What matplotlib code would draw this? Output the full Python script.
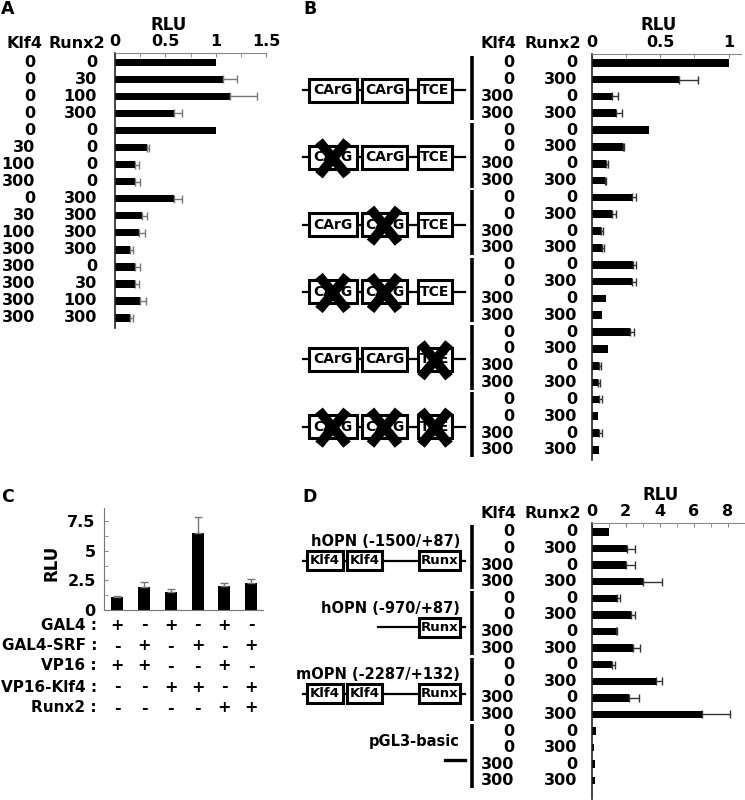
import matplotlib
matplotlib.use("Agg")
import matplotlib.pyplot as plt
import numpy as np
from matplotlib.patches import Rectangle
from matplotlib.ticker import MultipleLocator, FixedLocator, FixedFormatter
from matplotlib.transforms import blended_transform_factory

plt.rcParams["font.family"] = ["DejaVu Sans"]
plt.rcParams["font.weight"] = "bold"

# ---- data -------------------------------------------------------------
# Panel A
klf4_A = [0, 0, 0, 0, 0, 30, 100, 300, 0, 30, 100, 300, 300, 300, 300, 300]
runx2_A = [0, 30, 100, 300, 0, 0, 0, 0, 300, 300, 300, 300, 0, 30, 100, 300]
rlu_A = [1.0, 1.07, 1.14, 0.59, 1.0, 0.32, 0.195, 0.195,
         0.585, 0.27, 0.24, 0.15, 0.195, 0.2, 0.245, 0.15]
err_A = [0, 0.145, 0.27, 0.08, 0, 0.016, 0.046, 0.05,
         0.08, 0.05, 0.06, 0.033, 0.05, 0.04, 0.063, 0.03]

# Panel B
klf4_B = [0, 0, 300, 300] * 6
runx2_B = [0, 300, 0, 300] * 6
rlu_B = [1.0, 0.64, 0.15, 0.18, 0.415, 0.23, 0.105, 0.098,
         0.293, 0.149, 0.068, 0.073, 0.298, 0.295, 0.105, 0.078,
         0.276, 0.117, 0.054, 0.049, 0.056, 0.049, 0.054, 0.054]
err_B = [0, 0.137, 0.04, 0.04, 0, 0.006, 0.017, 0.008,
         0.03, 0.027, 0.017, 0.02, 0.025, 0.027, 0, 0,
         0.03, 0, 0.012, 0.008, 0.02, 0, 0.02, 0]
b_elements = ["CArG", "CArG", "TCE"]
b_mutated = [(False, False, False), (True, False, False), (False, True, False),
             (True, True, False), (False, False, True), (True, True, True)]

# Panel C
c_rows = ["GAL4", "GAL4-SRF", "VP16", "VP16-Klf4", "Runx2"]
c_signs = [["+", "-", "+", "-", "+", "-"],
           ["-", "+", "-", "+", "-", "+"],
           ["+", "+", "-", "-", "+", "-"],
           ["-", "-", "+", "+", "-", "+"],
           ["-", "-", "-", "-", "+", "+"]]
rlu_C = [1.07, 1.9, 1.54, 6.5, 2.0, 2.3]
err_C = [0.14, 0.48, 0.22, 1.35, 0.25, 0.3]

# Panel D
klf4_D = [0, 0, 300, 300] * 4
runx2_D = [0, 300, 0, 300] * 4
rlu_D = [1.0, 2.1, 2.0, 3.02, 1.46, 2.28, 1.42, 2.44,
         1.21, 3.75, 2.17, 6.5, 0.25, 0.15, 0.2, 0.2]
err_D = [0, 0.45, 0.53, 1.1, 0.2, 0.25, 0.04, 0.4,
         0.18, 0.4, 0.62, 1.64, 0, 0, 0, 0]
d_titles = ["hOPN (-1500/+87)", "hOPN (-970/+87)", "mOPN (-2287/+132)", "pGL3-basic"]
d_layout = ["full", "runx", "full", "none"]

# ---- figure -----------------------------------------------------------
W, H = 745, 800
fig = plt.figure(figsize=(7.45, 8), dpi=100)
canvas = fig.add_axes([0, 0, 1, 1])
canvas.set_xlim(0, W)
canvas.set_ylim(H, 0)
canvas.axis("off")

FS = 11.5


def px_axes(left, top, right, bottom):
    ax = fig.add_axes([left / W, 1 - bottom / H, (right - left) / W, (bottom - top) / H])
    ax.set_facecolor("none")
    return ax


def row_px(ax, row):
    return H - ax.transData.transform((0, row))[1]


def hbar_panel(ax, vals, errs, klf4, runx2, xlim, ylim, step, labels, label_pos,
               ecolor, col_x, head_x, head_y, rlu_x, rlu_y):
    y = np.arange(len(vals))
    vals = np.array(vals)
    errs = np.array(errs)
    ax.barh(y, vals, height=0.45, color="black")
    m = errs > 0
    ax.errorbar(vals[m], y[m], xerr=[np.zeros(m.sum()), errs[m]], fmt="none",
                ecolor=ecolor, elinewidth=1, capsize=3, capthick=1)
    ax.set_xlim(*xlim)
    ax.set_ylim(*ylim)
    ax.set_yticks([])
    ax.xaxis.tick_top()
    ax.xaxis.set_major_locator(FixedLocator(label_pos))
    ax.xaxis.set_major_formatter(FixedFormatter(labels))
    ax.xaxis.set_minor_locator(MultipleLocator(step))
    ax.tick_params(axis="x", which="both", direction="in", length=3,
                   color="#888888", labelsize=FS, pad=3)
    for s in ("bottom", "right"):
        ax.spines[s].set_visible(False)
    ax.spines["top"].set_color("#888888")
    ax.spines["left"].set_color("#222222")
    ax.spines["left"].set_linewidth(1.2)
    tr = blended_transform_factory(canvas.transData, ax.transData)
    for i in range(len(vals)):
        canvas.text(col_x[0], i, str(klf4[i]), transform=tr, ha="right",
                    va="center", fontsize=FS)
        canvas.text(col_x[1], i, str(runx2[i]), transform=tr, ha="right",
                    va="center", fontsize=FS)
    canvas.text(head_x[0], head_y, "Klf4", ha="center", va="center", fontsize=FS)
    canvas.text(head_x[1], head_y, "Runx2", ha="center", va="center", fontsize=FS)
    tr2 = blended_transform_factory(ax.transData, canvas.transData)
    canvas.text(rlu_x, rlu_y, "RLU", transform=tr2, ha="center", va="center",
                fontsize=FS + 0.5)


def box(x0, x1, yc, h, label, fs):
    canvas.add_patch(Rectangle((x0, yc - h / 2), x1 - x0, h, facecolor="white",
                               edgecolor="black", linewidth=2.2, zorder=3))
    canvas.text((x0 + x1) / 2, yc, label, ha="center", va="center",
                fontsize=fs, zorder=4)


def cross(cx, cy):
    # big black X drawn over a mutated element
    for sx in (-1, 1):
        canvas.plot([cx - sx * 14, cx + sx * 14], [cy - 17, cy + 17], color="black",
                    linewidth=7, solid_capstyle="butt", zorder=5)


def hline(x0, x1, yc):
    canvas.plot([x0, x1], [yc, yc], color="black", linewidth=1.6, zorder=2)


def group_bar(ax, first, last):
    canvas.plot([472, 472], [row_px(ax, first) - 7, row_px(ax, last) + 7],
                color="black", linewidth=2.6, solid_capstyle="butt")


# Panel A
axA = px_axes(115, 53, 266, 328)
hbar_panel(axA, rlu_A, err_A, klf4_A, runx2_A, (0, 1.5), (15.6, -0.55), 0.25,
           ["0", "0.5", "1", "1.5"], [0, 0.5, 1, 1.5], "#777777",
           (35, 97), (24, 77), 43, 0.53, 25)

# Panel B
axB = px_axes(591.7, 54, 741, 460)
hbar_panel(axB, rlu_B, err_B, klf4_B, runx2_B, (0, 1.09), (23.6, -0.52), 0.25,
           ["0", "0.5", "1"], [0, 0.5, 1], "#333333",
           (514, 577), (499, 553), 43, 0.49, 25)

bx = [(309, 357), (362, 407), (418, 452)]
for g, muts in enumerate(b_mutated):
    first, last = 4 * g, 4 * g + 3
    yc = (row_px(axB, first) + row_px(axB, last)) / 2 + 2
    group_bar(axB, first, last)
    hline(303, 465, yc)
    for (x0, x1), lab, mut in zip(bx, b_elements, muts):
        box(x0, x1, yc, 23, lab, 10)
        if mut:
            cross((x0 + x1) / 2, yc + 1)

# Panel C
axC = px_axes(104, 508, 263, 610)
xc = np.arange(len(rlu_C))
axC.bar(xc, rlu_C, width=0.45, color="black")
axC.errorbar(xc, rlu_C, yerr=[np.zeros(len(err_C)), err_C], fmt="none",
             ecolor="#777777", elinewidth=1, capsize=3, capthick=1)
axC.set_xlim(-0.5, 5.45)
axC.set_ylim(0, 8.6)
axC.set_xticks([])
axC.yaxis.set_major_locator(FixedLocator([0, 2.5, 5, 7.5]))
axC.yaxis.set_major_formatter(FixedFormatter(["0", "2.5", "5", "7.5"]))
axC.yaxis.set_minor_locator(MultipleLocator(1.25))
axC.tick_params(axis="y", which="both", direction="in", length=3,
                color="#888888", labelsize=FS, pad=6)
for s in ("top", "right"):
    axC.spines[s].set_visible(False)
for s in ("left", "bottom"):
    axC.spines[s].set_color("#777777")
canvas.text(52, 563, "RLU", rotation=90, ha="center", va="center", fontsize=FS + 0.5)
trC = blended_transform_factory(axC.transData, canvas.transData)
row_y = [625, 646, 666, 687, 708]
for name, signs, yy in zip(c_rows, c_signs, row_y):
    canvas.text(97, yy, name + " :", ha="right", va="center", fontsize=11)
    for i, s in enumerate(signs):
        canvas.text(xc[i], yy, s, transform=trC, ha="center", va="center",
                    fontsize=FS)

# Panel D
axD = px_axes(591.7, 522.7, 745, 799)
hbar_panel(axD, rlu_D, err_D, klf4_D, runx2_D, (0, 9), (16.1, -0.56), 1,
           ["0", "2", "4", "6", "8"], [0, 2, 4, 6, 8], "#333333",
           (514, 577), (499, 553), 513, 4.05, 495)

for g, (title, kind) in enumerate(zip(d_titles, d_layout)):
    first, last = 4 * g, 4 * g + 3
    y0 = row_px(axD, first)
    group_bar(axD, first, last)
    canvas.text(460, y0 + 10, title, ha="right", va="center", fontsize=10.5)
    yc = y0 + 29
    if kind == "full":
        hline(303, 465, yc)
        box(307, 343, yc, 19, "Klf4", 9.5)
        box(347, 382, yc, 19, "Klf4", 9.5)
        box(419, 460, yc, 19, "Runx", 9.5)
    elif kind == "runx":
        hline(378, 465, yc)
        box(419, 460, yc, 19, "Runx", 9.5)
    else:
        canvas.plot([445, 465], [yc, yc], color="black", linewidth=2.4)

# panel letters
for lab, (x, y) in zip("ABCD", [(8, 9), (310, 9), (7, 497), (310, 497)]):
    canvas.text(x, y, lab, ha="center", va="center", fontsize=12.5)

fig.savefig("out.png", dpi=100)
